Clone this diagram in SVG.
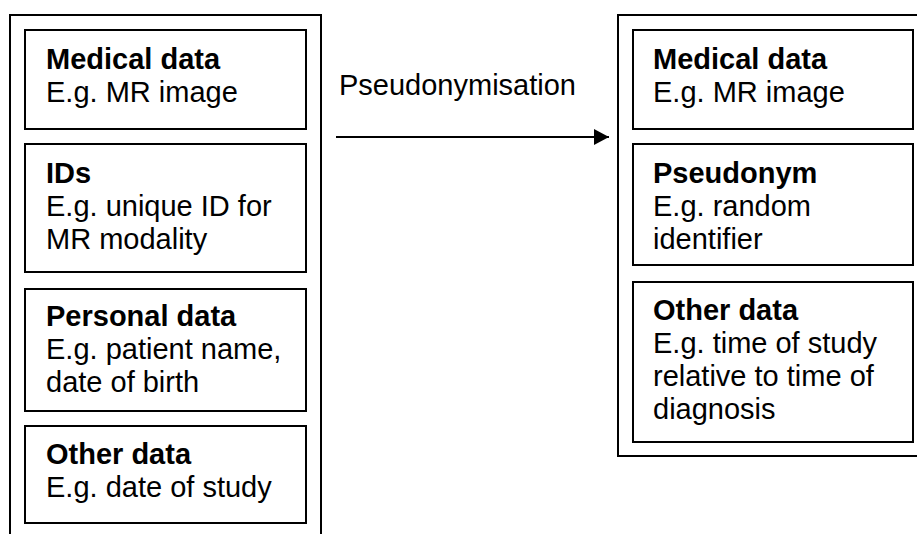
<svg xmlns="http://www.w3.org/2000/svg" width="917" height="534" viewBox="0 0 917 534">
  <defs>
    <marker id="arrowhead" markerWidth="15" markerHeight="16" refX="15" refY="8" orient="auto" markerUnits="userSpaceOnUse">
      <path d="M0,0 L15,8 L0,16 Z" fill="#000"/>
    </marker>
  </defs>
  <style>
    .frame { fill: none; stroke: #000; stroke-width: 2; }
    .box { fill: #fff; stroke: #000; stroke-width: 2; }
    text { font-family: "Liberation Sans", Arial, sans-serif; font-size: 29px; fill: #000; }
    .title { font-weight: bold; }
    .conn { stroke: #000; stroke-width: 2; fill: none; }
  </style>
  <rect width="917" height="534" fill="#fff"/>

  <!-- source record: open-bottomed frame -->
  <g id="source-record">
    <path class="frame" d="M10,534 V15 H321 V534"/>
  </g>

  <g id="src-medical">
    <rect class="box" x="25" y="30" width="281" height="99"/>
    <text x="46" y="69"><tspan class="title">Medical data</tspan><tspan x="46" dy="33">E.g. MR image</tspan></text>
  </g>

  <g id="src-ids">
    <rect class="box" x="25" y="144" width="281" height="128"/>
    <text x="46" y="183"><tspan class="title">IDs</tspan><tspan x="46" dy="33">E.g. unique ID for</tspan><tspan x="46" dy="33">MR modality</tspan></text>
  </g>

  <g id="src-personal">
    <rect class="box" x="25" y="289" width="281" height="122"/>
    <text x="46" y="326"><tspan class="title">Personal data</tspan><tspan x="46" dy="33">E.g. patient name,</tspan><tspan x="46" dy="33">date of birth</tspan></text>
  </g>

  <g id="src-other">
    <rect class="box" x="25" y="426" width="281" height="97"/>
    <text x="46" y="464"><tspan class="title">Other data</tspan><tspan x="46" dy="33">E.g. date of study</tspan></text>
  </g>

  <!-- pseudonymised record: frame runs past the right edge -->
  <g id="target-record">
    <path class="frame" d="M920,15 H618 V456 H920"/>
  </g>

  <g id="dst-medical">
    <rect class="box" x="633" y="30" width="280" height="99"/>
    <text x="653" y="69"><tspan class="title">Medical data</tspan><tspan x="653" dy="33">E.g. MR image</tspan></text>
  </g>

  <g id="dst-pseudonym">
    <rect class="box" x="633" y="144" width="280" height="121"/>
    <text x="653" y="183"><tspan class="title">Pseudonym</tspan><tspan x="653" dy="33">E.g. random</tspan><tspan x="653" dy="33">identifier</tspan></text>
  </g>

  <g id="dst-other">
    <rect class="box" x="633" y="282" width="280" height="160"/>
    <text x="653" y="320"><tspan class="title">Other data</tspan><tspan x="653" dy="33">E.g. time of study</tspan><tspan x="653" dy="33">relative to time of</tspan><tspan x="653" dy="33">diagnosis</tspan></text>
  </g>

  <g id="connectors">
    <line class="conn" x1="336" y1="137" x2="609" y2="137" marker-end="url(#arrowhead)"/>
    <text x="339" y="95">Pseudonymisation</text>
  </g>
</svg>
